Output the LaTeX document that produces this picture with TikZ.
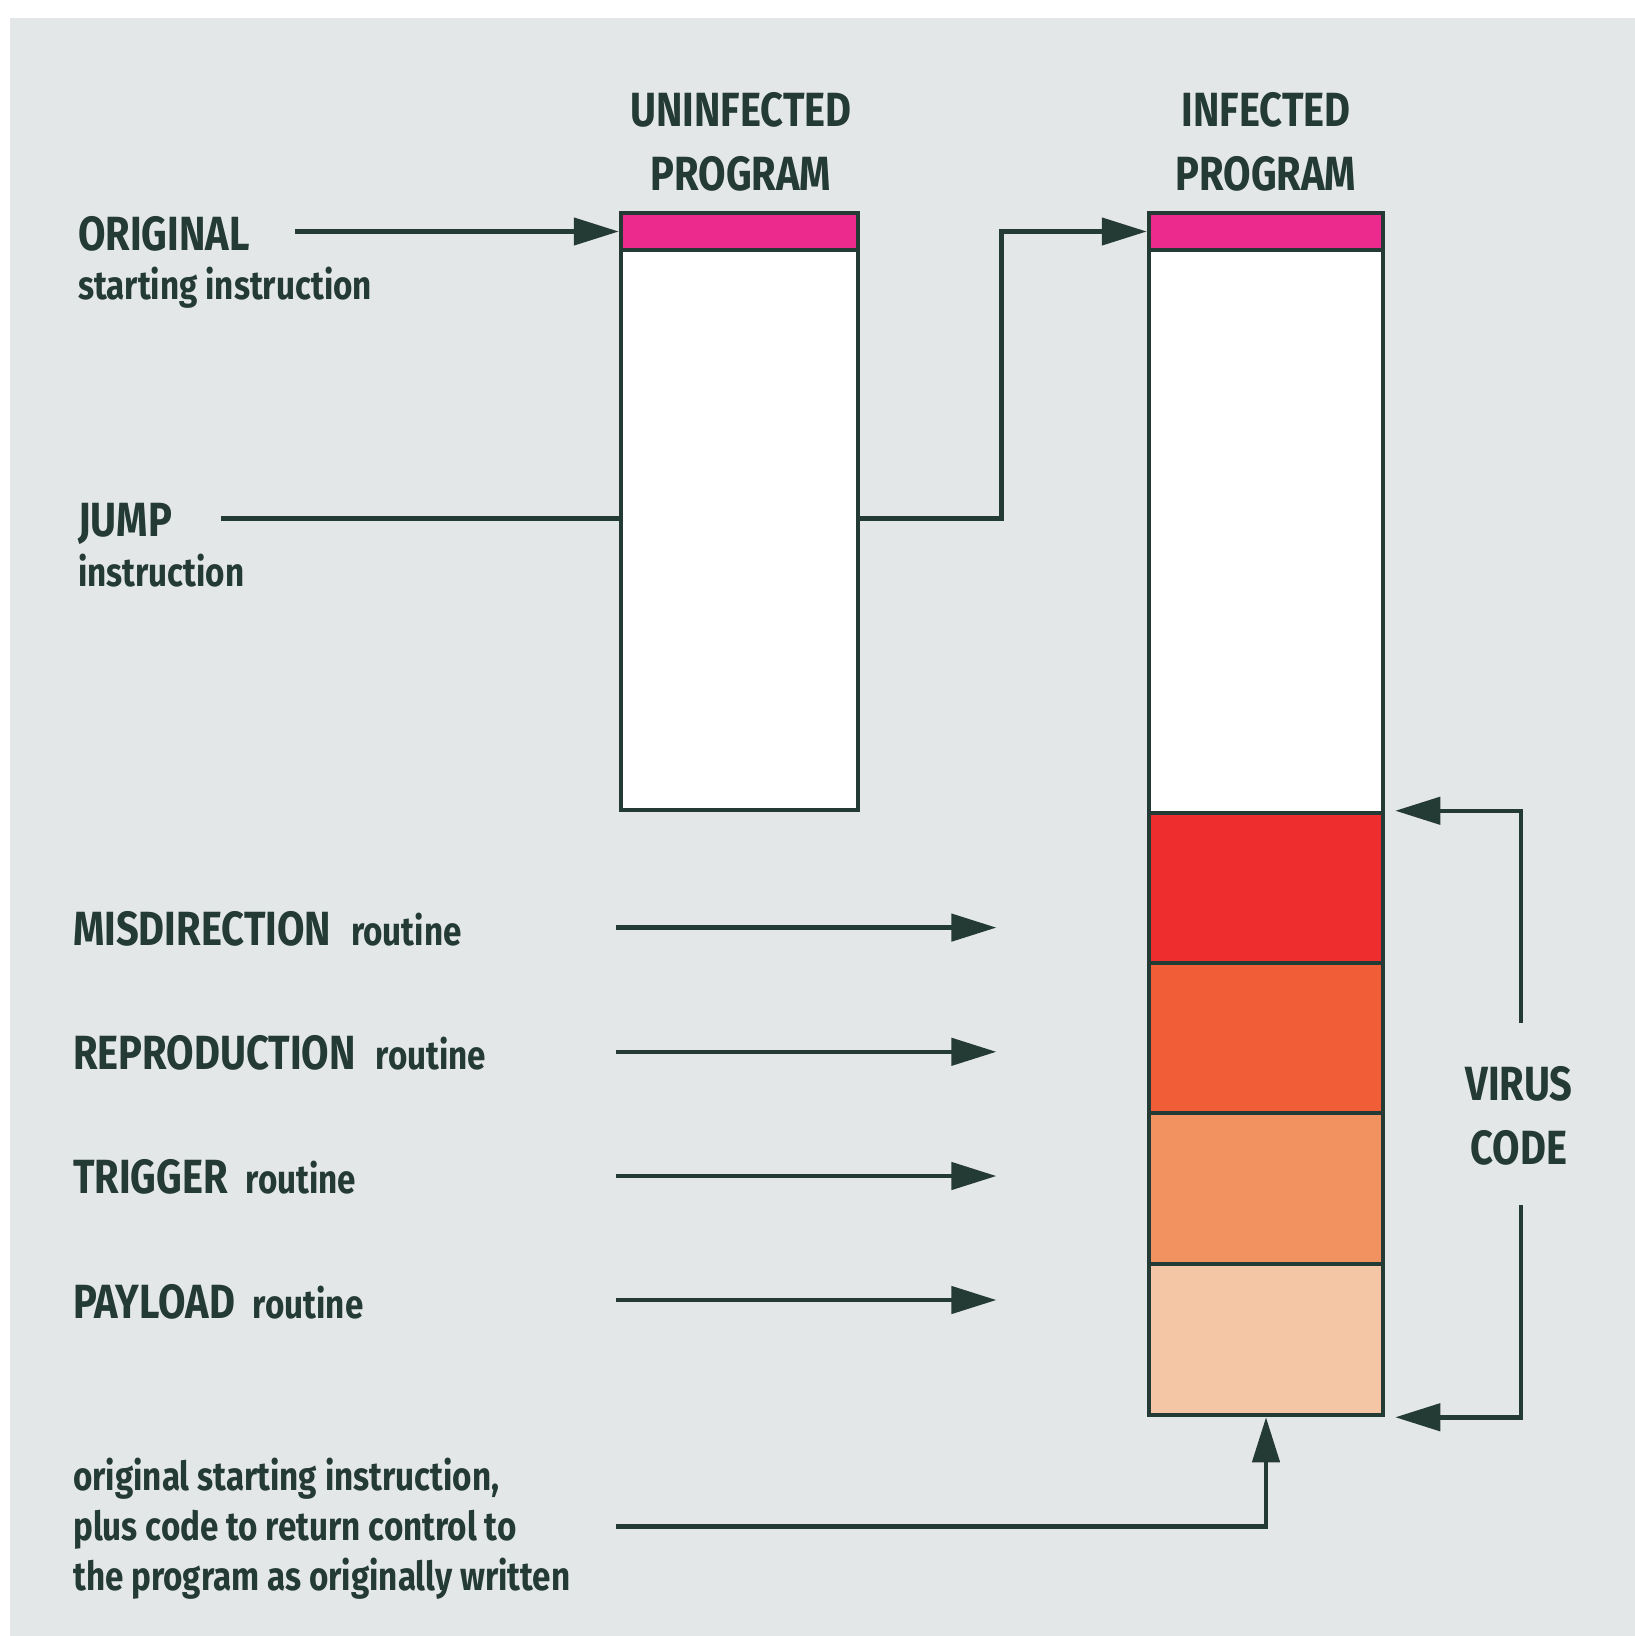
\documentclass[tikz,border=0pt]{standalone}
\usepackage{fontspec}
\newfontfamily\dfont{Fira Sans}[FakeStretch=0.83]
\usetikzlibrary{arrows.meta}
\definecolor{bg}{HTML}{E4E7E8}
\definecolor{ink}{HTML}{243A34}
\definecolor{pinkc}{HTML}{EC2A8E}
\definecolor{redc}{HTML}{EE2E2E}
\definecolor{orc}{HTML}{F15D36}
\definecolor{lorc}{HTML}{F29260}
\definecolor{peachc}{HTML}{F5C6A6}
\newcommand{\subf}{\fontsize{40}{50}\selectfont}
\begin{document}
\begin{tikzpicture}[x=1pt,y=-1pt,
  block/.style={draw=ink, line width=4.5pt, inner sep=0pt},
  conn/.style={draw=ink, line width=4.5pt},
  arr/.style={conn, -{Triangle[length=45pt,width=27pt]}},
  capt/.style={font=\dfont\bfseries\fontsize{48}{64}\selectfont, text=ink, inner sep=0pt},
  subt/.style={font=\dfont\bfseries\fontsize{40}{50}\selectfont, text=ink, inner sep=0pt}]
\useasboundingbox (0,0) rectangle (1635,1636);
\fill[white] (0,0) rectangle (1635,1636);
\fill[bg] (10,18) rectangle (1635,1636);

% uninfected program
\node[block, fill=white, minimum width=237pt, minimum height=560pt] (ubody) at (739.5,530) {};
\node[block, fill=pinkc, minimum width=237pt, minimum height=37pt] (upink) at (739.5,231.5) {};

% infected program
\node[block, fill=white, minimum width=234pt, minimum height=563pt] (ibody) at (1266,531.5) {};
\node[block, fill=pinkc, minimum width=234pt, minimum height=37pt] (ipink) at (1266,231.5) {};
\node[block, fill=redc, minimum width=234pt, minimum height=150pt] (mis) at (1266,888) {};
\node[block, fill=orc, minimum width=234pt, minimum height=150pt] (rep) at (1266,1038) {};
\node[block, fill=lorc, minimum width=234pt, minimum height=151pt] (trig) at (1266,1188.5) {};
\node[block, fill=peachc, minimum width=234pt, minimum height=151pt] (pay) at (1266,1339.5) {};

% headings
\node[capt, align=center] (uhead) at (741,141.5) {UNINFECTED\\PROGRAM};
\node[capt, align=center] (ihead) at (1266,141.5) {INFECTED\\PROGRAM};

% left labels
\node[capt, anchor=base west] (orig) at (78,250) {ORIGINAL};
\node[subt, anchor=base west] (origsub) at (78,299.5) {starting instruction};
\node[capt, anchor=base west] (jump) at (78,536) {JUMP};
\node[subt, anchor=base west] (jumpsub) at (78,586) {instruction};
\node[capt, anchor=base west] (lmis) at (73,945) {MISDIRECTION\hspace{20pt}{\subf routine}};
\node[capt, anchor=base west] (lrep) at (73,1069.5) {REPRODUCTION\hspace{20pt}{\subf routine}};
\node[capt, anchor=base west] (ltrig) at (73,1193) {TRIGGER\hspace{18pt}{\subf routine}};
\node[capt, anchor=base west] (lpay) at (73,1318) {PAYLOAD\hspace{18pt}{\subf routine}};
\node[subt, align=left, anchor=north west] (lorig) at (73,1458) {original starting instruction,\\plus code to return control to\\the program as originally written};
\node[capt, align=center] (vc) at (1519,1116) {VIRUS\\CODE};

% connectors
\coordinate (os) at (295,231.5);
\draw[arr] (os) -- (upink.west);

\coordinate (js) at (221,518.6);
\coordinate (jbend) at (1001.6,518.6);
\draw[conn] (js) -- (js -| ubody.west);
\draw[arr] (js -| ubody.east) -- (jbend) |- (ipink.west);

\coordinate (m1) at (615.6,927.6);  \coordinate (m2) at (996.4,927.6);
\coordinate (r1) at (615.6,1051.8); \coordinate (r2) at (996.4,1051.8);
\coordinate (t1) at (615.6,1176);   \coordinate (t2) at (996.4,1176);
\coordinate (p1) at (615.6,1300);   \coordinate (p2) at (996.4,1300);
\draw[arr] (m1) -- (m2);
\draw[arr] (r1) -- (r2);
\draw[arr] (t1) -- (t2);
\draw[arr] (p1) -- (p2);

\coordinate (bs) at (615.6,1526.5);
\draw[arr] (bs) -| (pay.south);

\coordinate (vtop) at (1521,1023);
\coordinate (vbot) at (1521,1205);
\draw[arr] (vtop) |- ([xshift=10pt]mis.north east);
\draw[arr] (vbot) |- ([xshift=10pt]pay.south east);
\end{tikzpicture}
\end{document}
